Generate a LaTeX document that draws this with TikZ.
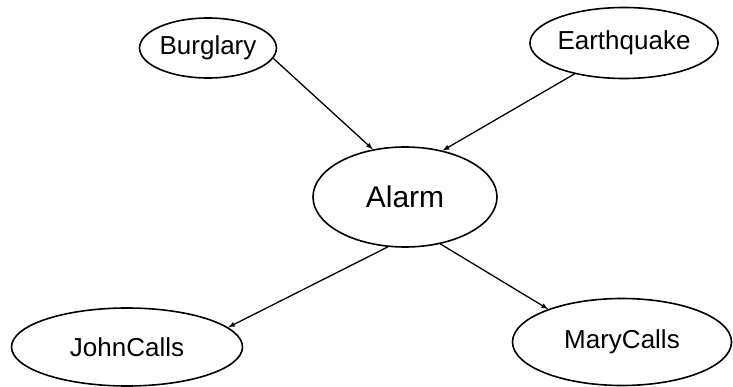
\documentclass[tikz,border=0pt]{standalone}
\usepackage{fontspec}
\setmainfont{Liberation Sans}
\usetikzlibrary{shapes.geometric}

\begin{document}
\begin{tikzpicture}[x=1pt,y=-1pt,
        var/.style={ellipse,draw,line width=1.6pt,inner sep=0pt,font=\fontsize{26}{30}\selectfont},
        edge/.style={-latex,line width=1.3pt}]
        \useasboundingbox (0,0) rectangle (733,387);

        \node[var,minimum width=131,minimum height=60](burglary) at (208,48){Burglary};
        \node[var,minimum width=162,minimum height=71](earthquake) at (624,43){Earthquake};
        \node[var,minimum width=184,minimum height=100,font=\fontsize{30}{34}\selectfont](alarm) at (405,197){Alarm};
        \node[var,minimum width=231,minimum height=78](john) at (127,347){JohnCalls};
        \node[var,minimum width=219,minimum height=87](mary) at (622,342){MaryCalls};

        \draw[edge](burglary.-9)--(alarm.124);
        \draw[edge](earthquake.-148)--(alarm.51);
        \draw[edge](alarm.-109)--(john.11);
        \draw[edge](alarm.-53)--(mary.156);
    \end{tikzpicture}
\end{document}
